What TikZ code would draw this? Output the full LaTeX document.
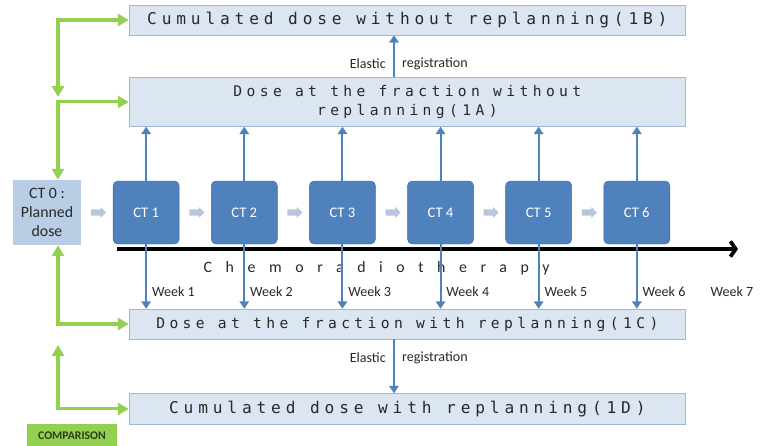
\documentclass[tikz,border=0pt]{standalone}
\usepackage{fontspec}
\setmainfont{Carlito}
\newfontfamily\spacedmono[LetterSpace=30]{DejaVu Sans Mono}
\newfontfamily\spacedsans[LetterSpace=86]{Carlito}
\usepackage{xcolor}
\usepackage{tikz}
\usetikzlibrary{shapes.arrows, arrows.meta, positioning, calc}

\definecolor{boxfill}{RGB}{220,230,242}
\definecolor{boxline}{RGB}{160,184,214}
\definecolor{doseink}{RGB}{40,40,40}
\definecolor{planfill}{RGB}{185,205,229}
\definecolor{ctfill}{RGB}{79,129,189}
\definecolor{ctline}{RGB}{62,106,160}
\definecolor{gapfill}{RGB}{182,198,222}
\definecolor{cmpgreen}{RGB}{146,208,80}
\definecolor{cmpink}{RGB}{45,62,28}

\begin{document}
\begin{tikzpicture}[
  node distance=0.95cm,
  dosebox/.style={rectangle, draw=boxline, fill=boxfill, minimum width=16.7cm, inner sep=0pt, text=doseink, align=center},
  bigdose/.style={font=\spacedmono\fontsize{13.8pt}{16pt}\selectfont},
  smalldose/.style={font=\spacedmono\fontsize{12.5pt}{17pt}\selectfont},
  planbox/.style={rectangle, fill=planfill, minimum width=2.04cm, minimum height=1.95cm, align=center, text=doseink, font=\fontsize{13.5pt}{16.5pt}\selectfont},
  ctbox/.style={rectangle, rounded corners=4pt, draw=ctline, fill=ctfill, minimum width=1.98cm, minimum height=1.89cm, text=white, font=\fontsize{12.5pt}{14pt}\selectfont},
  stepgap/.style={single arrow, fill=gapfill, inner sep=0.09cm, minimum height=0.45cm, single arrow head extend=0.07cm, single arrow head indent=0cm},
  regarrow/.style={draw=ctfill, line width=1.7pt, -{Triangle[length=2.2mm,width=2.8mm]}},
  cmparrow/.style={draw=cmpgreen, line width=2.6pt, {Triangle[length=3.3mm,width=3.6mm]}-{Triangle[length=3.3mm,width=3.6mm]}},
  smalllabel/.style={font=\fontsize{12pt}{13pt}\selectfont, text=doseink, inner sep=0pt}
]
\useasboundingbox (0,0) rectangle (22.86,13.35);

% dose boxes
\node (b1b) [dosebox, bigdose, minimum height=0.9cm] at (12.22,12.75) {Cumulated dose without replanning(1B)};
\node (b1a) [dosebox, smalldose, minimum height=1.47cm, below=1.26cm of b1b] {Dose at the fraction without\\replanning(1A)};
\node (b1c) [dosebox, smalldose, minimum height=0.9cm] at (12.22,3.63) {Dose at the fraction with replanning(1C)};
\node (b1d) [dosebox, bigdose, minimum height=0.93cm, below=1.62cm of b1c] {Cumulated dose with replanning(1D)};

% CT chain
\node (ct0) [planbox] at (1.41,6.975) {CT 0 :\\Planned\\dose};
\foreach \i [count=\j from 0] in {1,...,6} {
  \node (ct\i) [ctbox, right=of ct\j] {CT \i};
  \node (gap\i) [stepgap] at ($(ct\j.east)!0.5!(ct\i.west)$) {};
}

% timeline
\coordinate (tl0) at (3.51,5.88);
\coordinate (tl1) at (22.14,5.88);
\draw [line width=3.2pt, -{Straight Barb[length=1.6mm,width=4.6mm]}] (tl0) -- (tl1);
\node (chemo) [font=\spacedsans\fontsize{13.5pt}{15pt}\selectfont, text=doseink, inner sep=0pt] at (11.3,5.31) {Chemoradiotherapy};

% CT to dose boxes
\coordinate (wky) at (0,4.59);
\foreach \i in {1,...,6} {
  \draw [regarrow] (ct\i.north) -- (ct\i.north |- b1a.south);
  \draw [regarrow] (ct\i.south) -- (ct\i.south |- b1c.north);
  \node (wk\i) [smalllabel, anchor=west, xshift=0.17cm] at (ct\i.south |- wky) {Week \i};
}
\node (wk7) [smalllabel] at (21.96,4.59) {Week 7};

% elastic registration
\coordinate (reg) at (11.82,0);
\draw [regarrow] (reg |- b1a.north) -- (reg |- b1b.south);
\node (el1) [smalllabel, anchor=east] at (11.58,11.43) {Elastic};
\node (rg1) [smalllabel, anchor=west] at (12.06,11.43) {registration};
\draw [regarrow] (reg |- b1c.south) -- (reg |- b1d.north);
\node (el2) [smalllabel, anchor=east] at (11.58,2.61) {Elastic};
\node (rg2) [smalllabel, anchor=west] at (12.06,2.61) {registration};

% comparison
\coordinate (gx) at (1.74,0);
\draw [cmparrow] ([yshift=0.15cm]gx |- b1a.west) |- (b1b.west);
\draw [cmparrow] (gx |- ct0.north) |- (b1a.west);
\draw [cmparrow] (gx |- ct0.south) |- (b1c.west);
\draw [cmparrow] ([yshift=-0.63cm]gx |- b1c.west) |- (b1d.west);
\node (cmp) [fill=cmpgreen, minimum width=2.7cm, minimum height=0.75cm, text=cmpink, font=\bfseries\fontsize{10pt}{11pt}\selectfont] at (2.16,0.27) {COMPARISON};

\end{tikzpicture}
\end{document}
